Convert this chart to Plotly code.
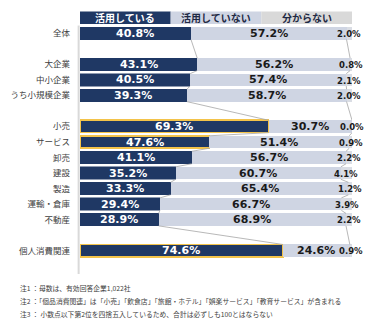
import plotly.graph_objects as go

# ---------------- data ----------------
groups = [
    ["全体"],
    ["大企業", "中小企業", "うち小規模企業"],
    ["小売", "サービス", "卸売", "建設", "製造", "運輸・倉庫", "不動産"],
    ["個人消費関連"],
]
categories = ["全体", "大企業", "中小企業", "うち小規模企業", "小売", "サービス", "卸売",
              "建設", "製造", "運輸・倉庫", "不動産", "個人消費関連"]
used = [40.8, 43.1, 40.5, 39.3, 69.3, 47.6, 41.1, 35.2, 33.3, 29.4, 28.9, 74.6]
not_used = [57.2, 56.2, 57.4, 58.7, 30.7, 51.4, 56.7, 60.7, 65.4, 66.7, 68.9, 24.6]
unknown = [2.0, 0.8, 2.1, 2.0, 0.0, 0.9, 2.2, 4.1, 1.2, 3.9, 2.2, 0.9]
highlighted = ["小売", "サービス", "個人消費関連"]
series_names = ["活用している", "活用していない", "分からない"]
notes = [
    "注1 ：母数は、有効回答企業1,022社",
    "注2 ：「個品消費関連」は「小売」「飲食店」「旅館・ホテル」「娯楽サービス」「教育サービス」が含まれる",
    "注3 ： 小数点以下第2位を四捨五入しているため、合計は必ずしも100とはならない",
]

# ---------------- layout of rows ----------------
DARK = "#1f3864"
LIGHT = "#cfd5e3"
UNK = "#dadde4"
GOLD = "#f3c34a"
W, H = 389, 331
ML, MR, MT, MB = 78, 37, 10, 57

rows = {}
r = 1
for gi, g in enumerate(groups):
    for c in g:
        rows[c] = r
        r += 1
    r += 1
nrows = r - 1  # last blank removed
ypos = [rows[c] for c in categories]

fig = go.Figure()

dark_line_col = [GOLD if c in highlighted else DARK for c in categories]
dark_line_w = [1.6 if c in highlighted else 0.5 for c in categories]

fig.add_trace(go.Bar(y=ypos, x=used, orientation="h", name=series_names[0],
                     marker=dict(color=DARK, line=dict(color=dark_line_col, width=dark_line_w)),
                     width=0.8, hoverinfo="skip"))
fig.add_trace(go.Bar(y=ypos, x=not_used, orientation="h", name=series_names[1],
                     marker=dict(color=LIGHT, line=dict(width=0)), width=0.8, hoverinfo="skip"))
fig.add_trace(go.Bar(y=ypos, x=unknown, orientation="h", name=series_names[2],
                     marker=dict(color=UNK, line=dict(width=0)), width=0.8, hoverinfo="skip"))

# series (connector) lines
lx, ly = [], []
for i in range(len(categories) - 1):
    for cum_i, cum_j in [(used[i], used[i + 1]),
                         (used[i] + not_used[i], used[i + 1] + not_used[i + 1])]:
        lx += [cum_i, cum_j, None]
        ly += [ypos[i] + 0.4, ypos[i + 1] - 0.4, None]
fig.add_trace(go.Scatter(x=lx, y=ly, mode="lines", line=dict(color="#a6a6a6", width=0.8),
                         hoverinfo="skip", showlegend=False))

ann = []
for i, c in enumerate(categories):
    ann.append(dict(x=used[i] / 2, y=ypos[i], text=f"{used[i]:.1f}%", showarrow=False,
                    font=dict(family="DejaVu Sans", size=11, color="white", weight="bold")))
    ann.append(dict(x=used[i] + not_used[i] / 2, y=ypos[i], text=f"{not_used[i]:.1f}%", showarrow=False,
                    font=dict(family="DejaVu Sans", size=11, color="#1a1a1a", weight="bold")))
    ann.append(dict(x=100 - unknown[i] / 2, y=ypos[i] + 0.05, text=f"{unknown[i]:.1f}%", showarrow=False,
                    font=dict(family="DejaVu Sans", size=8.5, color="#1a1a1a", weight="bold")))

# header boxes
shapes = []
hdr_fill = [DARK, LIGHT, "#d9d9d9"]
hdr_txt = ["white", "#1f2a44", "#1f2a44"]
for k, name in enumerate(series_names):
    x0, x1 = k * 100 / 3, (k + 1) * 100 / 3
    shapes.append(dict(type="rect", xref="x", yref="y", x0=x0, x1=x1, y0=-0.4, y1=0.4,
                       fillcolor=hdr_fill[k], line=dict(width=0), layer="below"))
    ann.append(dict(x=(x0 + x1) / 2, y=0, text=name, showarrow=False,
                    font=dict(family="Noto Sans CJK JP", size=10, color=hdr_txt[k], weight="bold")))

# left axis line
shapes.append(dict(type="line", xref="paper", yref="y", x0=-0.005, x1=-0.005, y0=0.5, y1=nrows + 0.5,
                   line=dict(color="#d9d9d9", width=2)))

# notes
ph = H - MT - MB
pw = W - ML - MR
for k, t in enumerate(notes):
    py = 288 + 13 * k
    ann.append(dict(xref="paper", yref="paper", x=(16 - ML) / pw, y=-(py - (H - MB)) / ph,
                    xanchor="left", yanchor="middle", text=t, showarrow=False,
                    font=dict(family="Noto Sans CJK JP", size=6.8, color="#404040")))

fig.update_layout(
    width=W, height=H, barmode="stack", showlegend=False,
    margin=dict(l=ML, r=MR, t=MT, b=MB),
    plot_bgcolor="white", paper_bgcolor="white",
    bargap=0.2,
    xaxis=dict(range=[0, 100], visible=False, fixedrange=True),
    yaxis=dict(range=[nrows + 0.5, -0.5], tickvals=ypos, ticktext=categories,
               showgrid=False, zeroline=False, showline=False, ticks="",
               ticklabelstandoff=9,
               tickfont=dict(family="Noto Sans CJK JP", size=8.5, color="#404040")),
    annotations=ann, shapes=shapes,
)

fig.write_html("out.html")
